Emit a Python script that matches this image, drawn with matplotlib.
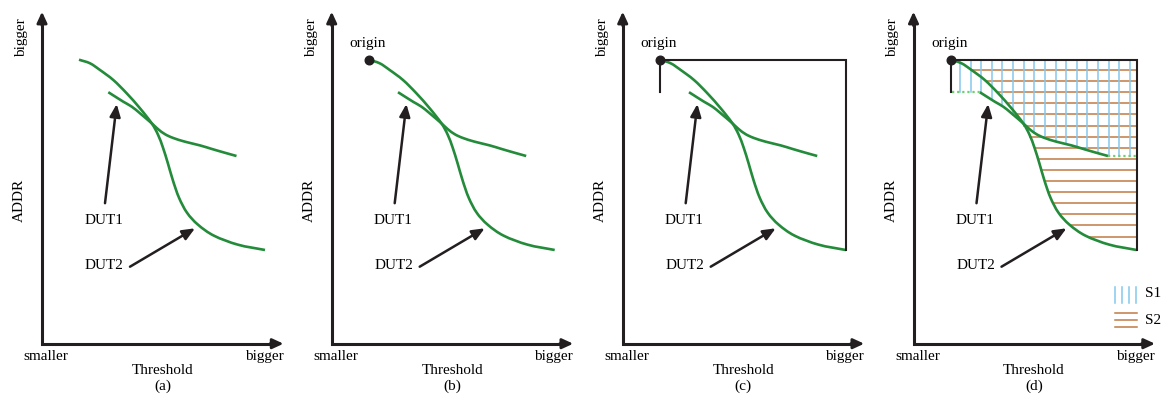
import matplotlib
matplotlib.use('Agg')
import matplotlib.pyplot as plt
import numpy as np
from matplotlib.path import Path
from matplotlib.patches import PathPatch

plt.rcParams['font.family'] = ['Liberation Serif', 'DejaVu Serif']

# ---------------- data (Threshold vs ADDR, arbitrary units) ----------------
dut1_threshold = [66.3, 81.3, 89.8, 98.0, 109.7, 116.0, 123.0, 131.0, 143.0, 158.0, 170.0, 182.0, 194.5]
dut1_addr      = [251.5, 242.0, 237.0, 230.4, 220.4, 214.6, 209.5, 205.8, 202.0, 198.3, 194.7, 191.2, 187.7]
dut2_threshold = [37.0, 48.0, 58.0, 71.3, 84.7, 98.0, 109.7, 116.0, 121.0, 126.0,
                  131.0, 137.0, 145.0, 156.0, 172.0, 196.0, 223.0]
dut2_addr      = [284.0, 280.4, 273.7, 263.7, 250.4, 235.4, 220.4, 209.0, 196.0, 180.0,
                  163.0, 146.0, 131.0, 119.0, 108.0, 99.0, 93.7]
origin = (37.0, 284.0)
right_bound = 223.5
panel_labels = ['(a)', '(b)', '(c)', '(d)']
curve_names = ['DUT1', 'DUT2']
legend_names = ['S1', 'S2']

# ---------------- styles ----------------
W, H = 1163, 400
BLACK = '#231f20'
GREEN = '#238b3a'
LGREEN = '#6fd06f'
BLUE = '#84c8ec'
BROWN = '#c07b42'
FS = 11


def smooth_path(xs, ys):
    """Catmull-Rom through the read points, rendered as cubic Bezier segments."""
    p = np.column_stack([xs, ys]).astype(float)
    ext = np.vstack([2 * p[0] - p[1], p, 2 * p[-1] - p[-2]])
    verts = [p[0]]
    codes = [Path.MOVETO]
    for k in range(1, len(ext) - 2):
        p0, p1, p2, p3 = ext[k - 1], ext[k], ext[k + 1], ext[k + 2]
        c1 = p1 + (p2 - p0) / 6.0
        c2 = p2 - (p3 - p1) / 6.0
        verts += [c1, c2, p2]
        codes += [Path.CURVE4] * 3
    return Path(verts, codes)


fig = plt.figure(figsize=(W / 100, H / 100), dpi=100)
axis_px = [42, 331.7, 622.7, 913.5]
X0 = 343.7

head = dict(arrowstyle='-|>,head_length=0.65,head_width=0.3', lw=2.0, color=BLACK,
            mutation_scale=10, shrinkA=0, shrinkB=0)
thin_head = dict(arrowstyle='-|>,head_length=0.75,head_width=0.32', lw=1.8, color=BLACK,
                 mutation_scale=10, shrinkA=0, shrinkB=0)

for i, axx in enumerate(axis_px):
    ax = fig.add_axes([(axx - 42) / W, 0, 290 / W, 1])
    ax.set_xlim(-42, 248)
    ax.set_ylim(X0 - 400, X0)
    ax.axis('off')

    # coordinate axes
    ax.plot([0, 0, 233], [322, 0, 0], color=BLACK, lw=2.2, solid_joinstyle='miter',
            solid_capstyle='butt', zorder=5)
    ax.annotate('', xy=(0, 332), xytext=(0, 318), arrowprops=head, zorder=5)
    ax.annotate('', xy=(241.5, 0), xytext=(228, 0), arrowprops=head, zorder=5)

    ax.text(-20.5, 306, 'bigger', rotation=90, ha='center', va='center', fontsize=FS)
    ax.text(-22.5, 143.7, 'ADDR', rotation=90, ha='center', va='center', fontsize=FS)
    ax.text(4.3, -12.5, 'smaller', ha='center', va='center', fontsize=FS)
    ax.text(222, -12.5, 'bigger', ha='center', va='center', fontsize=FS)
    ax.text(120.5, -26.5, 'Threshold', ha='center', va='center', fontsize=FS)
    ax.text(120.5, -43, panel_labels[i], ha='center', va='center', fontsize=FS)

    # curves
    for xs, ys in [(dut1_threshold, dut1_addr), (dut2_threshold, dut2_addr)]:
        ax.add_patch(PathPatch(smooth_path(xs, ys), facecolor='none', edgecolor=GREEN,
                               lw=1.9, capstyle='butt', zorder=4))

    # annotations
    ax.text(61.5, 123.5, curve_names[0], ha='center', va='center', fontsize=FS)
    ax.text(62.0, 78.5, curve_names[1], ha='center', va='center', fontsize=FS)
    ax.annotate('', xy=(74.7, 239.7), xytext=(63.0, 140.5), arrowprops=thin_head, zorder=6)
    ax.annotate('', xy=(153.0, 115.4), xytext=(88.0, 77.0), arrowprops=thin_head, zorder=6)

    if i >= 1:
        ax.plot([origin[0]], [origin[1]], 'o', ms=6.2, color=BLACK, zorder=7)
        ax.text(origin[0] - 1, 300.4, 'origin', ha='center', va='center', fontsize=FS)

    if i >= 2:
        ax.plot([origin[0], right_bound, right_bound], [origin[1], origin[1], dut2_addr[-1]],
                color=BLACK, lw=1.5, solid_joinstyle='miter', zorder=5)
        ax.plot([origin[0], origin[0]], [origin[1], dut1_addr[0]], color=BLACK, lw=1.5, zorder=5)

    if i == 3:
        # dotted extensions of DUT1
        ax.plot([origin[0] + 1, dut1_threshold[0]], [dut1_addr[0], dut1_addr[0]],
                color=LGREEN, lw=1.6, ls=(0, (1.0, 1.3)), zorder=4)
        ax.plot([dut1_threshold[-1], right_bound], [dut1_addr[-1], dut1_addr[-1]],
                color=LGREEN, lw=1.6, ls=(0, (1.0, 1.3)), zorder=4)
        # S2: horizontal hatch between DUT2 and right bound
        rev_y = dut2_addr[::-1]
        rev_x = dut2_threshold[::-1]
        for yy in np.arange(273.7, 100, -11.1):
            xs = np.interp(yy, rev_y, rev_x)
            ax.plot([xs, right_bound], [yy, yy], color=BROWN, lw=1.1, zorder=2)
        # S1: vertical hatch between top line and DUT1
        for xx in np.arange(46.5, 220, 10.62):
            yl = np.interp(xx, dut1_threshold, dut1_addr)
            ax.plot([xx, xx], [origin[1], yl], color=BLUE, lw=1.1, zorder=3)
        # legend
        for xx in [201.5, 208.8, 215.8, 222.5]:
            ax.plot([xx, xx], [41, 57], color=BLUE, lw=1.1)
        for yy in [30.4, 23.7, 17.0]:
            ax.plot([201.5, 223.2], [yy, yy], color=BROWN, lw=1.1)
        ax.text(231.0, 50.0, legend_names[0], ha='left', va='center', fontsize=FS)
        ax.text(231.0, 23.7, legend_names[1], ha='left', va='center', fontsize=FS)

fig.savefig('out.png', dpi=100)
